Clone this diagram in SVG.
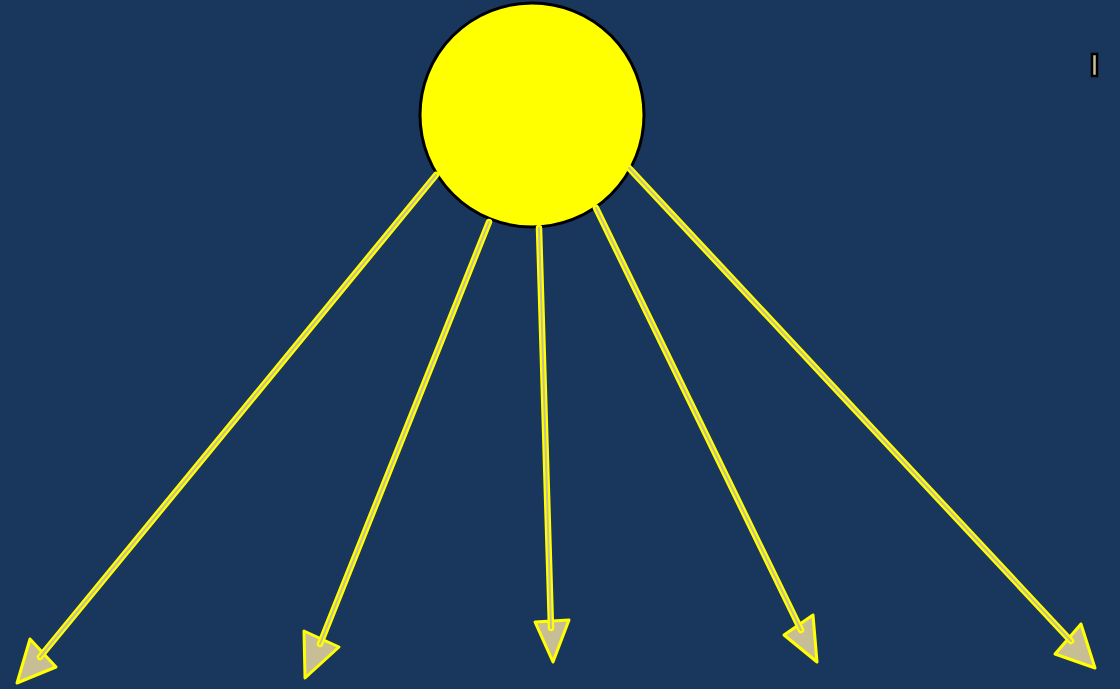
<svg xmlns="http://www.w3.org/2000/svg" width="1120" height="689" viewBox="0 0 1120 689">
<style>
.bg{fill:#19365d}
.sun{fill:#ffff00;stroke:#000;stroke-width:3}
.head{fill:#c8be96;stroke:#ffff00;stroke-width:3;stroke-linejoin:round}
.outer{stroke:#ffff00;stroke-width:6.5;stroke-linecap:round;fill:none}
.inner{stroke:#c8be96;stroke-width:2;stroke-linecap:round;fill:none}
.mark{fill:#c8be96;stroke:#000;stroke-width:2.5}
</style>
<rect class="bg" x="0" y="0" width="1120" height="689"/>
<g id="sun"><circle class="sun" cx="532" cy="115" r="112"/></g>
<g id="marker-box"><rect class="mark" x="1092" y="54" width="5" height="22"/></g>
<g id="connectors">
  <g id="ray1">
    <polygon class="head" points="17,683 30,639 56,667"/>
    <line class="outer" x1="436" y1="175" x2="40" y2="657"/>
    <line class="inner" x1="436" y1="175" x2="40" y2="657"/>
  </g>
  <g id="ray2">
    <polygon class="head" points="305,678 304,631 339,647"/>
    <line class="outer" x1="489" y1="222" x2="320" y2="644"/>
    <line class="inner" x1="489" y1="222" x2="320" y2="644"/>
  </g>
  <g id="ray3">
    <polygon class="head" points="553,662 535,622 569,620"/>
    <line class="outer" x1="539" y1="228" x2="551" y2="628"/>
    <line class="inner" x1="539" y1="228" x2="551" y2="628"/>
  </g>
  <g id="ray4">
    <polygon class="head" points="817,662 813,615 784,635"/>
    <line class="outer" x1="596" y1="208" x2="801" y2="630"/>
    <line class="inner" x1="596" y1="208" x2="801" y2="630"/>
  </g>
  <g id="ray5">
    <polygon class="head" points="1095,668 1081,624 1055,654"/>
    <line class="outer" x1="629" y1="168" x2="1071" y2="641"/>
    <line class="inner" x1="629" y1="168" x2="1071" y2="641"/>
  </g>
</g>
</svg>
